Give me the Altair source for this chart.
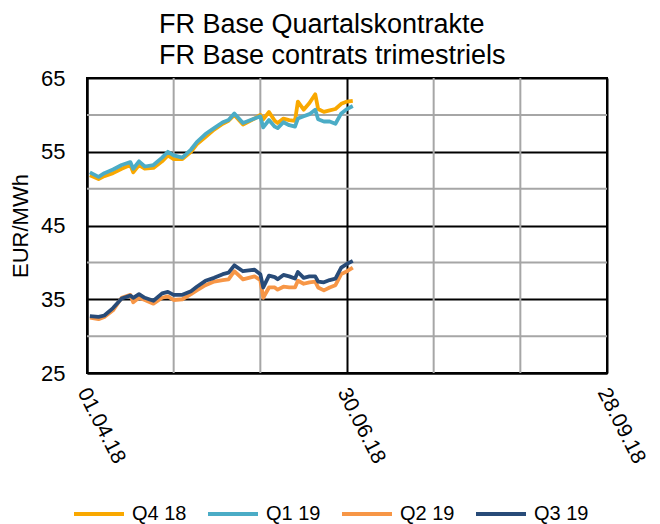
import altair as alt
import pandas as pd

# ---- data ----
dates = ["2018-04-02", "2018-04-05", "2018-04-07", "2018-04-10", "2018-04-13",
         "2018-04-16", "2018-04-17", "2018-04-19", "2018-04-21", "2018-04-24",
         "2018-04-27", "2018-04-29", "2018-05-01", "2018-05-04", "2018-05-07",
         "2018-05-09", "2018-05-12", "2018-05-15", "2018-05-18", "2018-05-20",
         "2018-05-22", "2018-05-25", "2018-05-27", "2018-05-29", "2018-05-31",
         "2018-06-01", "2018-06-03", "2018-06-05", "2018-06-06", "2018-06-08",
         "2018-06-10", "2018-06-12", "2018-06-13", "2018-06-15", "2018-06-17",
         "2018-06-19", "2018-06-20", "2018-06-22", "2018-06-24", "2018-06-26",
         "2018-06-28", "2018-06-30", "2018-07-02"]

q4_18 = [51.8, 51.3, 51.7, 52.1, 52.7, 53.2, 52.2, 53.2, 52.7, 52.8,
         53.7, 54.5, 54.0, 54.0, 55.0, 56.0, 57.0, 58.0, 58.8, 59.2,
         60.0, 58.7, 59.1, 59.5, 60.0, 59.4, 60.4, 59.2, 58.9, 59.5,
         59.3, 59.2, 61.8, 60.7, 61.6, 62.8, 60.8, 60.4, 60.6, 60.8,
         61.5, 61.8, 61.9]

q1_19 = [52.2, 51.6, 52.1, 52.6, 53.2, 53.6, 52.7, 53.7, 53.0, 53.2,
         54.2, 55.0, 54.5, 54.2, 55.3, 56.3, 57.4, 58.2, 59.0, 59.3,
         60.2, 58.9, 59.2, 59.5, 59.8, 58.3, 59.3, 58.4, 58.2, 59.0,
         58.6, 58.4, 59.5, 59.8, 60.1, 60.7, 59.4, 59.1, 59.1, 58.8,
         60.2, 60.8, 61.2]

q2_19 = [32.5, 32.3, 32.6, 33.5, 35.2, 35.6, 34.6, 35.2, 34.9, 34.4,
         35.2, 35.4, 34.9, 35.0, 35.7, 36.2, 36.9, 37.4, 37.6, 37.7,
         38.8, 37.7, 37.9, 38.1, 37.6, 35.2, 36.6, 36.6, 36.3, 36.7,
         36.6, 36.6, 37.5, 37.1, 37.3, 37.4, 36.6, 36.2, 36.6, 36.9,
         38.4, 38.8, 39.3]

q3_19 = [32.7, 32.6, 32.8, 33.8, 35.1, 35.5, 35.2, 35.7, 35.2, 34.8,
         35.8, 36.0, 35.6, 35.6, 36.1, 36.7, 37.5, 37.9, 38.4, 38.6,
         39.6, 38.8, 38.9, 39.0, 38.4, 36.6, 38.2, 38.0, 37.7, 38.3,
         38.1, 37.8, 38.7, 37.9, 38.1, 38.1, 37.4, 37.3, 37.6, 37.8,
         39.3, 39.8, 40.2]

series_names = ["Q4 18", "Q1 19", "Q2 19", "Q3 19"]
series_colors = ["#F9A800", "#4BACC6", "#F79646", "#284B78"]

y_major = [25, 35, 45, 55, 65]
y_minor = [30, 40, 50, 60]
x_minor = ["2018-05-01", "2018-05-31", "2018-07-30", "2018-08-29"]

title_lines = ["FR Base Quartalskontrakte", "FR Base contrats trimestriels"]
y_title = "EUR/MWh"

# ---- tables ----
rows = []
for name, vals in zip(series_names, [q4_18, q1_19, q2_19, q3_19]):
    for d, v in zip(dates, vals):
        rows.append({"date": d, "value": v, "series": name})
df = pd.DataFrame(rows)
df_yminor = pd.DataFrame({"value": y_minor})
df_xminor = pd.DataFrame({"date": x_minor})

FONT = "Liberation Sans"

xscale = alt.Scale(type="utc",
                   domain=[alt.DateTime(year=2018, month=4, date=1, utc=True),
                           alt.DateTime(year=2018, month=9, date=28, utc=True)])
yscale = alt.Scale(domain=[25, 65], nice=False, zero=False)

x_axis = alt.Axis(
    values=[alt.DateTime(year=2018, month=4, date=1, utc=True),
            alt.DateTime(year=2018, month=6, date=30, utc=True),
            alt.DateTime(year=2018, month=9, date=28, utc=True)],
    labelExpr="utcFormat(datum.value, '%d.%m.%y')", title=None,
    labelAngle=63, labelAlign="left", labelBaseline="middle",
    labelFontSize=21, labelFont=FONT, labelColor="black",
    labelPadding=16, labelOffset=-5, labelFlush=False, labelOverlap=False,
    labelBound=False,
    ticks=False, grid=True, gridColor="black", gridWidth=2,
    domainColor="black", domainWidth=2)

y_axis = alt.Axis(
    values=y_major, title=y_title, titleFontSize=22, titleFont=FONT,
    titleFontWeight="normal", titleColor="black", titlePadding=8,
    labelFontSize=22, labelFont=FONT, labelColor="black", labelPadding=22,
    ticks=False, grid=True, gridColor="black", gridWidth=2,
    domainColor="black", domainWidth=2)

X = alt.X("date:T", scale=xscale, axis=x_axis)
Y = alt.Y("value:Q", scale=yscale, axis=y_axis)

color = alt.Color(
    "series:N",
    scale=alt.Scale(domain=series_names, range=series_colors),
    legend=alt.Legend(orient="none", legendX=-15, legendY=409,
                      direction="horizontal", title=None,
                      symbolType="stroke", symbolSize=2500,
                      symbolStrokeWidth=4, labelFontSize=20, labelFont=FONT,
                      labelColor="black", labelOffset=6, columnPadding=13))

yminor = alt.Chart(df_yminor).mark_rule(color="#A6A6A6", strokeWidth=2).encode(y=Y)
xminor = alt.Chart(df_xminor).mark_rule(color="#A6A6A6", strokeWidth=2).encode(x=X)

layers = [yminor, xminor]
for name in series_names:
    layers.append(
        alt.Chart(df).transform_filter(alt.datum.series == name)
        .mark_line(strokeWidth=3.8, strokeJoin="round")
        .encode(x=X, y=Y, color=color)
    )

chart = alt.layer(*layers).properties(
    width=520, height=295,
    autosize=alt.AutoSizeParams(type="none"),
    padding={"left": 79, "top": 70, "right": 45, "bottom": 151},
    title=alt.Title(title_lines, anchor="start", frame="group", dx=72, dy=7,
                    fontSize=27, font=FONT, fontWeight="normal",
                    color="black", lineHeight=31),
).configure_view(stroke="black", strokeWidth=2)

chart.save("out.html", embed_options={"renderer": "svg", "actions": False})
